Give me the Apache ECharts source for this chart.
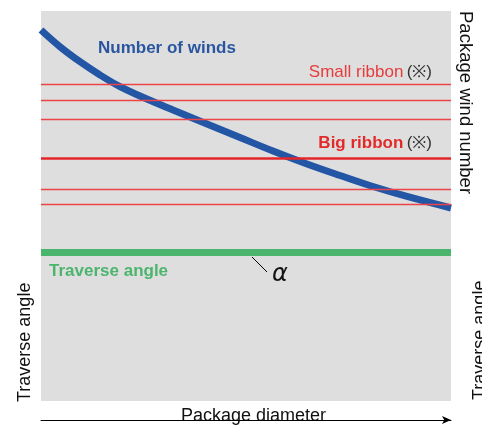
<!DOCTYPE html>
<html>
<head>
<meta charset="utf-8">
<script src="https://cdn.jsdelivr.net/npm/echarts@6/dist/echarts.min.js"></script>
<style>
  html, body { margin: 0; padding: 0; background: #fff; }
  #chart { width: 482px; height: 428px; }
</style>
</head>
<body>
<div id="chart"></div>
<script>
// package diameter (0-100 %) vs. relative values
const diameter = [0, 4.63, 9.51, 14.39, 19.27, 24.15, 32.2, 40.49, 48.54, 56.59, 64.88, 72.93, 80.98, 89.27, 100]
const windNumber = [95.13, 90.85, 87.0, 83.59, 80.59, 78.21, 74.62, 71.03, 67.56, 64.1, 60.77, 57.82, 55.0, 52.44, 49.49]
const smallRibbon = [81.3, 77.2, 72.3, 54.4, 50.5]
const bigRibbon = [62.3]
const traverseAngle = [38.1, 38.1]
const traverseX = [0, 100]

const font = '"Liberation Sans", Arial, sans-serif'
const red = '#e63c3c'

const chart = echarts.init(document.getElementById('chart'))

chart.setOption({
  animation: false,
  grid: {
    left: 41, top: 11, width: 410, height: 390,
    show: true, backgroundColor: '#dedede', borderWidth: 0,
  },
  xAxis: {
    type: 'value', min: 0, max: 100,
    offset: 19,
    axisLine: {
      show: true, onZero: false,
      symbol: ['none', 'arrow'], symbolSize: [6, 9],
      lineStyle: { color: '#000', width: 1 },
    },
    axisTick: { show: false }, axisLabel: { show: false }, splitLine: { show: false },
  },
  yAxis: {
    type: 'value', min: 0, max: 100,
    axisLine: { show: false }, axisTick: { show: false },
    axisLabel: { show: false }, splitLine: { show: false },
  },
  series: [
    {
      name: 'Ribbons',
      type: 'line',
      data: [],
      markLine: {
        silent: true, symbol: 'none', label: { show: false },
        data: smallRibbon.map(v => ({ yAxis: v, lineStyle: { color: '#ec4448', width: 1.3, type: 'solid', opacity: 1 } }))
          .concat(bigRibbon.map(v => ({ yAxis: v, lineStyle: { color: '#e3262a', width: 2.5, type: 'solid', opacity: 1 } }))),
      },
    },
    {
      name: 'Traverse angle',
      type: 'line',
      data: traverseX.map((x, i) => [x, traverseAngle[i]]),
      showSymbol: false,
      lineStyle: { color: '#4bb46d', width: 7 },
    },
    {
      name: 'Number of winds',
      type: 'line',
      smooth: 0.4,
      data: diameter.map((x, i) => [x, windNumber[i]]),
      showSymbol: false,
      lineStyle: { color: '#2456a6', width: 7, cap: 'butt' },
    },
  ],
  graphic: [
    { type: 'text', left: 98, top: 40, style: { text: 'Number of winds', font: 'bold 17px ' + font, fill: '#2a56a0' } },
    {
      type: 'text', right: 50, top: 64,
      style: {
        text: '{r|Small ribbon} {k|(※)}',
        rich: { r: { font: '17px ' + font, fill: red }, k: { font: '17px ' + font, fill: '#333' } },
      },
    },
    {
      type: 'text', right: 50, top: 135,
      style: {
        text: '{r|Big ribbon} {k|(※)}',
        rich: { r: { font: 'bold 17px ' + font, fill: '#e32a2a' }, k: { font: '17px ' + font, fill: '#333' } },
      },
    },
    { type: 'text', left: 49, top: 263, style: { text: 'Traverse angle', font: 'bold 17px ' + font, fill: '#4bb46d' } },
    { type: 'line', shape: { x1: 252, y1: 257, x2: 267, y2: 272 }, style: { stroke: '#000', lineWidth: 1 } },
    { type: 'text', left: 272, top: 263, style: { text: 'α', font: 'italic 24px "DejaVu Sans", sans-serif', fill: '#111' } },
    {
      type: 'text', x: 170, y: 407,
      style: { text: 'Package diameter', font: '18px ' + font, fill: '#111', backgroundColor: '#fff', padding: [0, 0, 0, 11] },
    },
    {
      type: 'text', x: 475, y: 11, rotation: -Math.PI / 2,
      style: { text: 'Package wind number', font: '18.5px ' + font, fill: '#111' },
    },
    {
      type: 'text', x: 16, y: 402, rotation: Math.PI / 2,
      style: { text: 'Traverse angle', font: '18px ' + font, fill: '#111' },
    },
    {
      type: 'text', x: 471, y: 400, rotation: Math.PI / 2,
      style: { text: 'Traverse angle', font: '18px ' + font, fill: '#111' },
    },
  ],
})
</script>
</body>
</html>
